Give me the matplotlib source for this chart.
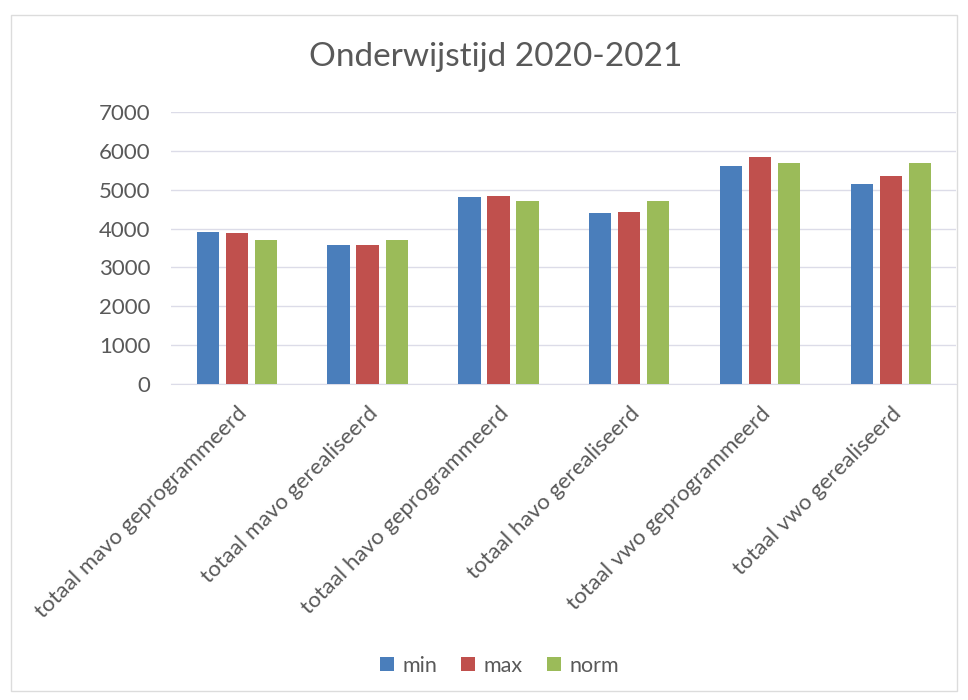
import numpy as np
import matplotlib.pyplot as plt
from matplotlib.patches import Rectangle

plt.rcParams['font.family'] = ['Lato', 'DejaVu Sans']

categories = ['totaal mavo geprogrammeerd', 'totaal mavo gerealiseerd',
              'totaal havo geprogrammeerd', 'totaal havo gerealiseerd',
              'totaal vwo geprogrammeerd', 'totaal vwo gerealiseerd']
min_vals = [3905, 3590, 4810, 4410, 5620, 5150]
max_vals = [3880, 3565, 4845, 4425, 5830, 5355]
norm_vals = [3700, 3700, 4700, 4700, 5700, 5700]
series = ['min', 'max', 'norm']
colors = ['#4a7ebb', '#c0504d', '#9bbb59']
yticks = [0, 1000, 2000, 3000, 4000, 5000, 6000, 7000]

fig = plt.figure(figsize=(9.68, 7), dpi=100)
ax = fig.add_axes([0.177, 0.4514, 0.811, 0.3886])

x = np.arange(len(categories))
w = 0.17
off = 0.222
for i, (vals, name) in enumerate(zip([min_vals, max_vals, norm_vals], series)):
    ax.bar(x + (i - 1) * off, vals, width=w, color=colors[i], label=name, zorder=3)

ax.set_xlim(-0.5, len(categories) - 0.5)
ax.set_ylim(0, 7000)
ax.set_yticks(yticks)
ax.grid(axis='y', color='#dcdce8', linewidth=1, zorder=0)
for s in ['top', 'right', 'left']:
    ax.spines[s].set_visible(False)
ax.spines['bottom'].set_color('#dcdce8')
ax.tick_params(axis='both', length=0, labelsize=16, colors='#595959')
ax.tick_params(axis='y', pad=15)
ax.set_xticks(x)
ax.set_xticklabels(categories, rotation=45, ha='right', rotation_mode='anchor')
ax.tick_params(axis='x', pad=14)

fig.text(0.512, 0.918, 'Onderwijstijd 2020-2021', ha='center', va='center',
         fontsize=24, color='#595959')

fig.legend(loc='center', bbox_to_anchor=(0.516, 0.049), ncol=3, frameon=False,
           fontsize=15.5, handlelength=0.65, handleheight=0.65,
           columnspacing=1.1, handletextpad=0.4, labelcolor='#595959')

fig.add_artist(Rectangle((0.011, 0.013), 0.978, 0.965, transform=fig.transFigure,
                         fill=False, edgecolor='#dcdcdc', linewidth=1))

fig.savefig('out.png', dpi=100)
